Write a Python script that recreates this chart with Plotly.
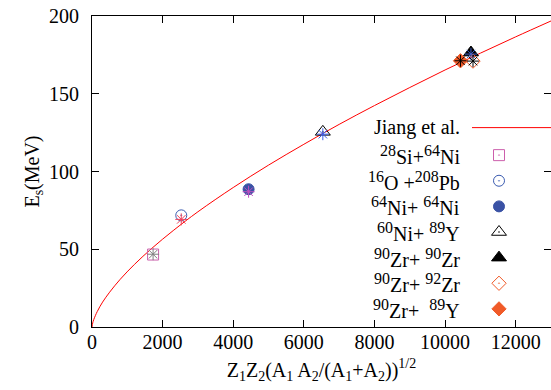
import plotly.graph_objects as go

# ---- data ----
zeta_curve = [0, 20, 50, 150, 300, 500, 800, 1200, 1700, 2300, 3000, 4000, 5000,
              6000, 7000, 8000, 9000, 10000, 11000, 12000, 13000]
es_curve = [0, 2.6, 4.8, 10.0, 16.0, 22.4, 30.7, 40.2, 50.7, 62.0, 74.1, 89.7, 104.1,
            117.5, 130.3, 142.4, 154.0, 165.3, 176.1, 186.6, 196.8]

def sp(t):
    return "<sup><span style='font-size:16px'>" + t + "</span></sup>"

systems = [sp("28") + "Si+" + sp("64") + "Ni", sp("16") + "O +" + sp("208") + "Pb",
           sp("64") + "Ni+ " + sp("64") + "Ni", sp("60") + "Ni+ " + sp("89") + "Y",
           sp("90") + "Zr+ " + sp("90") + "Zr", sp("90") + "Zr+ " + sp("92") + "Zr",
           sp("90") + "Zr+  " + sp("89") + "Y"]
zeta_pts = [1730, 2528, 4435, 6538, 10733, 10791, 10436]
es_exp = [46.6, 71.8, 88.6, 125.5, 176.5, 171.0, 171.2]
es_calc = [46.8, 69.2, 87.0, 124.0, 175.5, 171.0, 171.2]

x_ticks = [0, 2000, 4000, 6000, 8000, 10000, 12000]
y_ticks = [0, 50, 100, 150, 200]

exp_symbols = ["square-open-dot", "circle-open-dot", "circle", "triangle-up-open-dot",
               "triangle-up", "diamond-open-dot", "diamond"]
exp_sizes = [11, 11, 11, 13, 13, 11, 11]
exp_colors = ["#cc5fac", "#3a5bb0", "#3a52a5", "#000000", "#000000", "#f05a28", "#f05a28"]
calc_colors = ["#808080", "#f0405a", "#c050c0", "#3a5ce8", "#4060c8", "#000000", "#000000"]

FONT = "Liberation Serif"

fig = go.Figure()

fig.add_trace(go.Scatter(x=zeta_curve, y=es_curve, mode="lines",
                         line=dict(color="#ff0000", width=1, shape="spline"),
                         showlegend=False))

for i in range(len(systems)):
    fig.add_trace(go.Scatter(x=[zeta_pts[i]], y=[es_exp[i]], mode="markers",
                             marker=dict(symbol=exp_symbols[i], size=exp_sizes[i],
                                         color=exp_colors[i],
                                         line=dict(color=exp_colors[i], width=1)),
                             showlegend=False))
for i in range(len(systems)):
    fig.add_trace(go.Scatter(x=[zeta_pts[i]], y=[es_calc[i]], mode="markers",
                             marker=dict(symbol="asterisk-open", size=10,
                                         color=calc_colors[i],
                                         line=dict(color=calc_colors[i], width=1)),
                             showlegend=False))

# ---- manual gnuplot-style legend (text left, sample right) on pixel-scaled overlay axes ----
leg_y0 = 155.0
leg_dy = 25.6
fig.add_trace(go.Scatter(x=[472, 560], y=[127.5, 127.5], mode="lines",
                         line=dict(color="#ff0000", width=1),
                         xaxis="x2", yaxis="y2", showlegend=False, cliponaxis=False))
annotations = [dict(x=462, y=127.5, xref="x2", yref="y2", text="Jiang et al.",
                    showarrow=False, xanchor="right", yanchor="middle",
                    font=dict(family=FONT, size=20, color="#000"))]
for i, name in enumerate(systems):
    yy = leg_y0 + i * leg_dy
    fig.add_trace(go.Scatter(x=[499], y=[yy], mode="markers",
                             marker=dict(symbol=exp_symbols[i], size=exp_sizes[i],
                                         color=exp_colors[i],
                                         line=dict(color=exp_colors[i], width=1)),
                             xaxis="x2", yaxis="y2", showlegend=False))
    annotations.append(dict(x=462, y=yy, xref="x2", yref="y2", text=name,
                            showarrow=False, xanchor="right", yanchor="middle",
                            font=dict(family=FONT, size=20, color="#000")))

fig.update_layout(
    width=551, height=390,
    margin=dict(l=92, r=0, t=16, b=63, autoexpand=False),
    paper_bgcolor="white", plot_bgcolor="white",
    font=dict(family=FONT, size=20, color="#000"),
    annotations=annotations,
    hovermode=False,
    xaxis=dict(range=[0, 13000], tickvals=x_ticks, ticktext=[str(v) for v in x_ticks],
               ticks="inside", ticklen=7, tickcolor="#000", showgrid=False,
               zeroline=False, showline=True, linecolor="#000", linewidth=1,
               mirror="allticks", ticklabelstandoff=-3, automargin=False,
               title=dict(text="Z<sub>1</sub>Z<sub>2</sub>(A<sub>1</sub> A<sub>2</sub>/(A<sub>1</sub>+A<sub>2</sub>))<sup>1/2</sup>",
                          standoff=10, font=dict(size=20))),
    yaxis=dict(range=[0, 200], tickvals=y_ticks, ticktext=[str(v) for v in y_ticks],
               ticks="inside", ticklen=7, tickcolor="#000", showgrid=False,
               zeroline=False, showline=True, linecolor="#000", linewidth=1,
               mirror="allticks", ticklabelstandoff=8, automargin=False,
               title=dict(text="E<sub>s</sub>(MeV)", standoff=4, font=dict(size=20))),
    xaxis2=dict(range=[92, 551], domain=[0, 1], anchor="y2", overlaying="x",
                visible=False, fixedrange=True),
    yaxis2=dict(range=[326.7, 16], domain=[0, 1], anchor="x2", overlaying="y",
                visible=False, fixedrange=True),
)

fig.write_html("out.html", config={"displayModeBar": False},
               post_script="document.body.style.margin='0';document.body.style.overflow='hidden';")
